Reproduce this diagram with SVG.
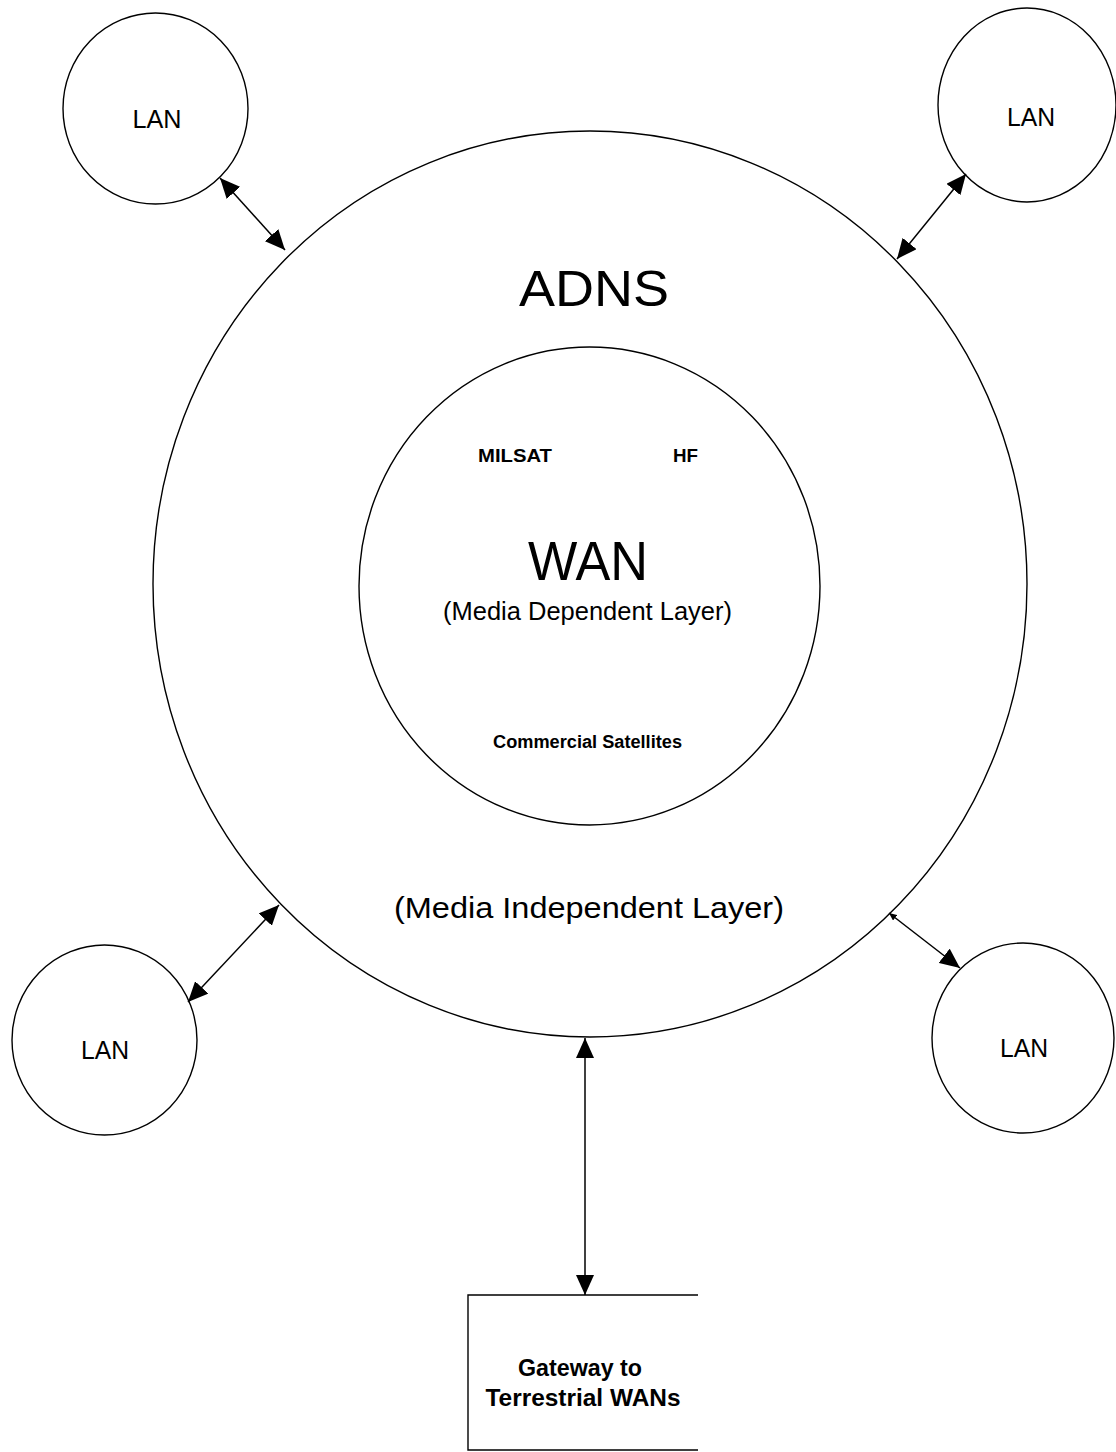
<svg xmlns="http://www.w3.org/2000/svg" width="1116" height="1452" viewBox="0 0 1116 1452">
<style>
.shape{fill:none;stroke:#000;stroke-width:1.4}
.conn{fill:none;stroke:#000;stroke-width:1.5}
text{font-family:"Liberation Sans",Arial,sans-serif;fill:#000;text-anchor:middle}
.lan{font-size:26px}
.bold{font-weight:bold}
</style>
<defs>
<marker id="ah" viewBox="0 0 20 18" refX="20" refY="9" markerWidth="20" markerHeight="18" markerUnits="userSpaceOnUse" orient="auto-start-reverse">
<path d="M0,0 L20,9 L0,18 z" fill="#000"/>
</marker>
<marker id="ahs" viewBox="0 0 20 18" refX="20" refY="9" markerWidth="8" markerHeight="7" markerUnits="userSpaceOnUse" orient="auto-start-reverse">
<path d="M0,0 L20,9 L0,18 z" fill="#000"/>
</marker>
</defs>
<rect width="1116" height="1452" fill="#fff"/>
<g id="adns">
<ellipse class="shape" cx="590" cy="584" rx="437" ry="453"/>
<text x="594" y="306" style="font-size:50px" textLength="150" lengthAdjust="spacingAndGlyphs">ADNS</text>
<text x="589" y="918" style="font-size:30px" textLength="390" lengthAdjust="spacingAndGlyphs">(Media Independent Layer)</text>
</g>
<g id="wan">
<ellipse class="shape" cx="589.5" cy="586" rx="230.5" ry="239"/>
<text class="bold" x="515" y="462" style="font-size:19px" textLength="74" lengthAdjust="spacingAndGlyphs">MILSAT</text>
<text class="bold" x="685.5" y="462" style="font-size:19px" textLength="25" lengthAdjust="spacingAndGlyphs">HF</text>
<text x="588" y="580" style="font-size:55px" textLength="120" lengthAdjust="spacingAndGlyphs">WAN</text>
<text x="587.5" y="620" style="font-size:25px" textLength="289" lengthAdjust="spacingAndGlyphs">(Media Dependent Layer)</text>
<text class="bold" x="587.5" y="748" style="font-size:18px" textLength="189" lengthAdjust="spacingAndGlyphs">Commercial Satellites</text>
</g>
<g id="lan-top-left">
<ellipse class="shape" cx="155.5" cy="108.5" rx="92.5" ry="95.5"/>
<text class="lan" x="157" y="128" textLength="49" lengthAdjust="spacingAndGlyphs">LAN</text>
</g>
<g id="lan-top-right">
<ellipse class="shape" cx="1027" cy="105" rx="89" ry="97"/>
<text class="lan" x="1031" y="126" textLength="48" lengthAdjust="spacingAndGlyphs">LAN</text>
</g>
<g id="lan-bottom-left">
<ellipse class="shape" cx="104.5" cy="1040" rx="92.5" ry="95"/>
<text class="lan" x="105" y="1059" textLength="48" lengthAdjust="spacingAndGlyphs">LAN</text>
</g>
<g id="lan-bottom-right">
<ellipse class="shape" cx="1023" cy="1038" rx="91" ry="95"/>
<text class="lan" x="1024" y="1057" textLength="48" lengthAdjust="spacingAndGlyphs">LAN</text>
</g>
<g id="gateway">
<polyline class="shape" points="698,1295 468,1295 468,1450 698,1450"/>
<text class="bold" x="580" y="1376" style="font-size:24px" textLength="124" lengthAdjust="spacingAndGlyphs">Gateway to</text>
<text class="bold" x="583" y="1406" style="font-size:24px" textLength="195" lengthAdjust="spacingAndGlyphs">Terrestrial WANs</text>
</g>
<g id="connectors">
<line class="conn" x1="220" y1="178" x2="285" y2="250" marker-start="url(#ah)" marker-end="url(#ah)"/>
<line class="conn" x1="966" y1="174" x2="897" y2="259" marker-start="url(#ah)" marker-end="url(#ah)"/>
<line class="conn" x1="279" y1="905" x2="188" y2="1002" marker-start="url(#ah)" marker-end="url(#ah)"/>
<line class="conn" x1="889" y1="913" x2="960" y2="968" marker-start="url(#ahs)" marker-end="url(#ah)"/>
<line class="conn" x1="585" y1="1038" x2="585" y2="1295" marker-start="url(#ah)" marker-end="url(#ah)"/>
</g>
</svg>
